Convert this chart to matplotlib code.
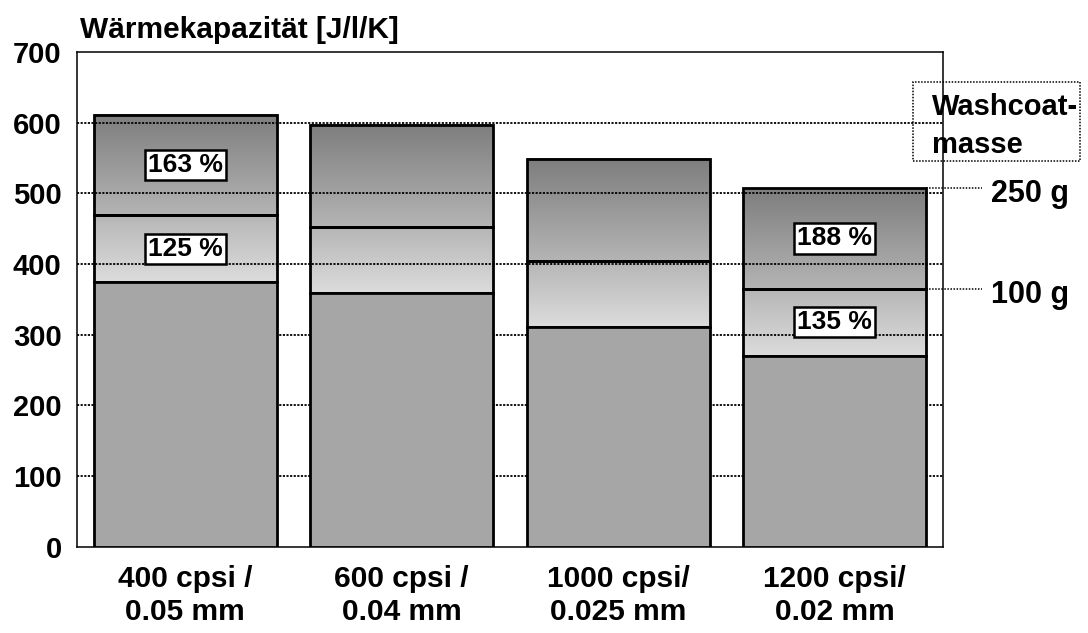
import numpy as np
import matplotlib
matplotlib.use("Agg")
import matplotlib.pyplot as plt
from matplotlib.patches import Rectangle

plt.rcParams['font.family'] = ['Liberation Sans', 'DejaVu Sans']
plt.rcParams['font.weight'] = 'bold'

# Data (heat capacity J/l/K), cumulative stack heights
categories = ["400 cpsi /\n0.05 mm", "600 cpsi /\n0.04 mm",
              "1000 cpsi/\n0.025 mm", "1200 cpsi/\n0.02 mm"]
substrate = [374, 359, 311, 270]          # without washcoat
washcoat_100g = [469, 452, 404, 365]      # cumulative with 100 g
washcoat_250g = [611, 597, 549, 507]      # cumulative with 250 g
pct_100g = ["125 %", None, None, "135 %"]
pct_250g = ["163 %", None, None, "188 %"]
y_ticks = [0, 100, 200, 300, 400, 500, 600, 700]

BAR_W = 0.845
EDGE = 2.0
DOT = (0, (1, 1))
W, H = 1088, 633


def gradient(ax, x, y0, y1, c_top, c_bot):
    grad = np.linspace(0, 1, 64).reshape(-1, 1)
    top = np.array(matplotlib.colors.to_rgb(c_top))
    bot = np.array(matplotlib.colors.to_rgb(c_bot))
    img = top[None, None, :] * (1 - grad[:, :, None]) + bot[None, None, :] * grad[:, :, None]
    ax.imshow(img, extent=[x - BAR_W / 2, x + BAR_W / 2, y0, y1],
              origin='upper', aspect='auto', zorder=0.5, interpolation='bilinear')
    ax.add_patch(Rectangle((x - BAR_W / 2, y0), BAR_W, y1 - y0, fill=False,
                           edgecolor='black', lw=EDGE, zorder=3))


fig = plt.figure(figsize=(W / 100, H / 100), dpi=100)
ax = fig.add_axes([77 / W, 1 - 546.5 / H, (943 - 77) / W, (546.5 - 52) / H])

x = np.arange(len(categories))
for i in x:
    gradient(ax, i, washcoat_100g[i], washcoat_250g[i], '#7e7e7e', '#b4b4b4')
    gradient(ax, i, substrate[i], washcoat_100g[i], '#b6b6b6', '#dcdcdc')
ax.bar(x, substrate, BAR_W, color='#a6a6a6', edgecolor='black', lw=EDGE, zorder=3)

# gridlines: over the washcoat parts, hidden by the substrate part
for yv in y_ticks[1:-1]:
    ax.axhline(yv, color='black', ls=(0, (1.2, 0.8)), lw=1.3, zorder=2)

# percentage labels
box = dict(boxstyle='square,pad=0.12', fc='white', ec='black', lw=1.8)
for i in x:
    if pct_250g[i]:
        ax.text(i, (washcoat_100g[i] + washcoat_250g[i]) / 2, pct_250g[i], ha='center',
                va='center', fontsize=19, bbox=box, zorder=5)
    if pct_100g[i]:
        ax.text(i, (substrate[i] + washcoat_100g[i]) / 2, pct_100g[i], ha='center',
                va='center', fontsize=19, bbox=box, zorder=5)

ax.set_xlim(-0.5, len(categories) - 0.5)
ax.set_ylim(0, 700)
ax.set_yticks(y_ticks)
ax.set_xticks(x)
ax.set_xticklabels(categories, linespacing=1.25)
ax.tick_params(axis='y', length=0, pad=11, labelsize=21)
ax.tick_params(axis='x', length=0, pad=13, labelsize=21.5)
for side in ['left', 'right', 'bottom']:
    ax.spines[side].set_linestyle(DOT)
    ax.spines[side].set_linewidth(1.1)
ax.spines['top'].set_linewidth(1.1)

# right-side annotation for washcoat mass
last = len(categories) - 1
x_edge = last + BAR_W / 2
for yv, lab in [(washcoat_250g[last], "250 g"), (washcoat_100g[last], "100 g")]:
    ax.plot([x_edge, 3.68], [yv, yv], color='black', ls=DOT, lw=1.1, clip_on=False, zorder=4)
    ax.annotate(lab, xy=(3.72, yv), xytext=(0, -10), textcoords='offset points',
                ha='left', va='baseline', fontsize=22, annotation_clip=False)

fig.patches.append(Rectangle((913 / W, 1 - 161 / H), 167 / W, 79 / H,
                             transform=fig.transFigure, fill=False, ec='black',
                             ls=DOT, lw=1.1))
fig.text(932 / W, 1 - 115 / H, "Washcoat-", fontsize=21, ha='left', va='baseline')
fig.text(932 / W, 1 - 153 / H, "masse", fontsize=21, ha='left', va='baseline')

fig.text(80 / W, 1 - 38 / H, "Wärmekapazität [J/l/K]", fontsize=21.5, ha='left', va='baseline')

fig.savefig("out.png", dpi=100)
